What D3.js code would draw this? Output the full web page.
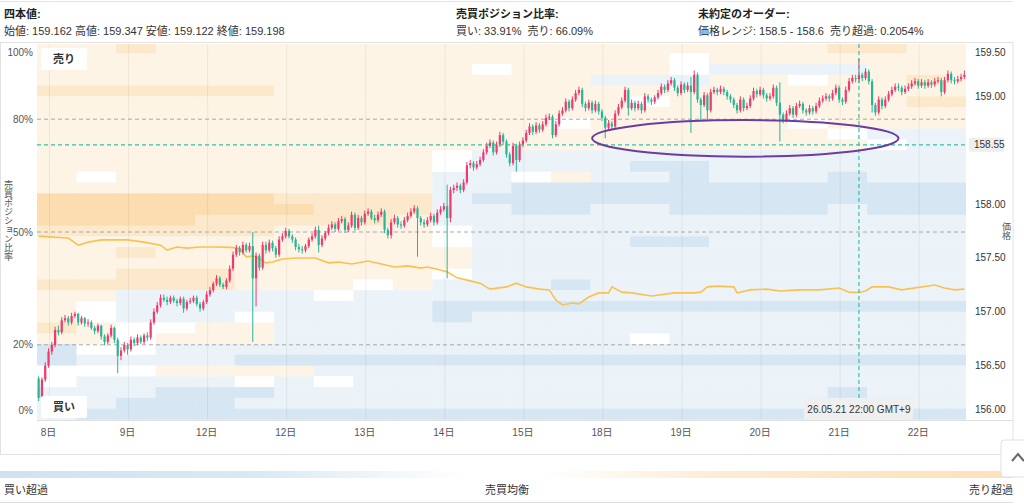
<!DOCTYPE html>
<html lang="ja">
<head>
<meta charset="utf-8">
<title>ポジション比率チャート</title>
<script src="https://cdn.jsdelivr.net/npm/d3@7"></script>
<style>
  body { margin: 0; background: #fff; }
  svg text { font-family: "Liberation Sans", "Noto Sans CJK JP", sans-serif; fill: #333; }
</style>
</head>
<body>
<div id="chart"></div>
<script>
// hourly candles, price in JPY
const firstOpen = 156.38;
const closes = [
  156.20,156.37,156.50,156.63,156.69,156.83,156.81,156.92,156.94,156.90,
  156.96,156.98,156.90,156.94,156.89,156.90,156.85,156.82,156.87,156.77,
  156.72,156.78,156.85,156.74,156.59,156.64,156.69,156.65,156.74,156.71,
  156.76,156.72,156.78,156.76,156.90,157.00,157.06,157.13,157.11,157.09,
  157.13,157.10,157.08,157.12,157.03,157.09,157.10,157.13,157.07,157.03,
  157.09,157.16,157.20,157.26,157.31,157.25,157.23,157.29,157.40,157.53,
  157.59,157.55,157.62,157.57,157.61,157.31,157.52,157.41,157.62,157.57,
  157.64,157.59,157.53,157.67,157.70,157.75,157.70,157.67,157.60,157.58,
  157.57,157.61,157.67,157.70,157.76,157.62,157.68,157.73,157.78,157.81,
  157.77,157.84,157.86,157.76,157.80,157.90,157.78,157.87,157.83,157.91,
  157.93,157.87,157.85,157.90,157.93,157.76,157.71,157.83,157.87,157.81,
  157.80,157.85,157.89,157.93,157.96,157.87,157.83,157.81,157.85,157.89,
  157.83,157.92,157.95,157.98,157.87,158.13,158.15,158.17,158.13,158.20,
  158.36,158.38,158.34,158.37,158.41,158.48,158.54,158.57,158.48,158.55,
  158.64,158.58,158.46,158.38,158.54,158.41,158.55,158.59,158.66,158.72,
  158.67,158.73,158.69,158.74,158.80,158.81,158.64,158.74,158.84,158.87,
  158.95,158.89,158.97,159.03,159.06,158.93,158.89,158.94,158.87,158.93,
  158.86,158.80,158.71,158.75,158.72,158.84,158.90,158.96,159.06,158.89,
  158.94,158.89,158.93,158.87,159.00,158.97,158.95,158.99,159.03,159.09,
  159.06,159.12,159.15,159.08,159.03,159.11,159.06,159.10,159.04,159.20,
  158.97,158.92,159.01,158.87,159.04,159.06,159.04,159.07,159.04,159.00,
  158.97,158.92,158.87,158.97,158.89,158.91,158.98,159.05,159.02,159.06,
  159.01,158.98,159.00,159.08,158.94,158.83,158.78,158.84,158.89,158.83,
  158.91,158.93,158.87,158.85,158.89,158.86,158.91,158.96,158.98,159.00,
  158.98,159.03,159.08,158.97,158.95,159.06,159.14,159.17,159.16,159.20,
  159.17,159.23,159.14,158.92,158.85,158.97,158.91,158.97,159.02,159.06,
  159.09,159.08,159.04,159.07,159.09,159.12,159.14,159.10,159.13,159.10,
  159.13,159.11,159.14,159.15,159.04,159.15,159.21,159.15,159.14,159.16,
  159.18,159.20
];
const highs = [
  156.40,156.39,156.53,156.66,156.72,156.86,156.87,156.95,156.97,156.96,
  156.99,157.00,156.99,156.96,156.95,156.93,156.92,156.87,156.89,156.88,
  156.79,156.80,156.88,156.86,156.76,156.67,156.72,156.71,156.77,156.76,
  156.79,156.78,156.80,156.81,156.93,157.03,157.09,157.16,157.16,157.14,
  157.15,157.15,157.12,157.14,157.14,157.11,157.13,157.15,157.15,157.09,
  157.11,157.19,157.23,157.28,157.34,157.33,157.27,157.31,157.43,157.56,
  157.62,157.61,157.65,157.64,157.64,157.74,157.55,157.54,157.65,157.65,
  157.67,157.66,157.61,157.70,157.73,157.78,157.77,157.72,157.69,157.63,
  157.61,157.63,157.69,157.73,157.79,157.80,157.71,157.75,157.81,157.84,
  157.83,157.87,157.89,157.88,157.83,157.93,157.92,157.90,157.89,157.94,
  157.96,157.95,157.90,157.93,157.96,157.95,157.78,157.86,157.90,157.89,
  157.84,157.88,157.92,157.96,157.99,157.98,157.89,157.86,157.88,157.92,
  157.91,157.95,157.98,158.01,158.18,158.16,158.18,158.20,158.19,158.23,
  158.39,158.41,158.40,158.40,158.44,158.51,158.57,158.60,158.59,158.58,
  158.67,158.66,158.60,158.48,158.57,158.56,158.58,158.62,158.69,158.75,
  158.74,158.76,158.75,158.77,158.83,158.84,158.83,158.77,158.87,158.90,
  158.98,158.97,159.00,159.06,159.09,159.08,158.95,158.97,158.96,158.96,
  158.95,158.88,158.82,158.78,158.77,158.87,158.93,158.99,159.09,159.08,
  158.97,158.96,158.96,158.95,159.03,159.02,158.99,159.01,159.06,159.12,
  159.11,159.15,159.18,159.17,159.10,159.14,159.13,159.13,159.18,159.24,
  159.22,158.99,159.04,159.03,159.07,159.09,159.08,159.10,159.09,159.06,
  159.02,158.99,158.94,159.00,158.99,158.94,159.01,159.08,159.07,159.09,
  159.08,159.03,159.03,159.11,159.10,159.13,158.85,158.87,158.92,158.91,
  158.94,158.96,158.95,158.89,158.92,158.91,158.94,158.99,159.01,159.03,
  159.02,159.06,159.11,159.10,158.99,159.09,159.17,159.20,159.20,159.35,
  159.22,159.26,159.25,159.16,158.94,159.00,158.99,159.00,159.05,159.09,
  159.12,159.12,159.10,159.10,159.12,159.15,159.17,159.16,159.16,159.15,
  159.16,159.15,159.17,159.18,159.17,159.18,159.24,159.23,159.18,159.19,
  159.21,159.24
];
const lows = [
  156.17,156.18,156.35,156.48,156.60,156.67,156.78,156.79,156.90,156.87,
  156.88,156.94,156.87,156.88,156.86,156.86,156.83,156.79,156.80,156.74,
  156.69,156.70,156.76,156.71,156.43,156.55,156.62,156.60,156.63,156.68,
  156.69,156.70,156.70,156.73,156.74,156.88,156.98,157.04,157.09,157.06,
  157.07,157.08,157.05,157.06,156.99,157.01,157.07,157.08,157.05,157.00,
  157.01,157.07,157.14,157.18,157.24,157.23,157.21,157.21,157.27,157.38,
  157.51,157.52,157.53,157.55,157.55,156.72,157.05,157.38,157.39,157.54,
  157.55,157.56,157.50,157.51,157.65,157.68,157.68,157.64,157.57,157.55,
  157.54,157.55,157.59,157.65,157.68,157.55,157.60,157.66,157.71,157.76,
  157.74,157.75,157.82,157.73,157.74,157.78,157.75,157.76,157.80,157.81,
  157.89,157.85,157.82,157.83,157.88,157.73,157.68,157.68,157.81,157.78,
  157.77,157.78,157.83,157.87,157.91,157.51,157.80,157.78,157.79,157.83,
  157.80,157.81,157.90,157.93,157.31,157.83,158.10,158.12,158.10,158.11,
  158.18,158.33,158.31,158.32,158.35,158.39,158.46,158.52,158.45,158.46,
  158.53,158.55,158.43,158.35,158.36,158.30,158.39,158.53,158.57,158.64,
  158.64,158.65,158.66,158.67,158.72,158.78,158.61,158.62,158.72,158.82,
  158.85,158.86,158.87,158.95,159.01,158.90,158.86,158.87,158.84,158.85,
  158.83,158.77,158.61,158.69,158.69,158.70,158.82,158.88,158.94,158.82,
  158.87,158.86,158.87,158.84,158.85,158.94,158.92,158.93,158.97,159.01,
  159.03,159.04,159.10,159.05,159.00,159.01,159.03,159.04,158.66,159.02,
  158.94,158.78,158.90,158.78,158.85,159.02,159.01,159.02,159.01,158.97,
  158.94,158.89,158.84,158.85,158.86,158.87,158.89,158.96,158.99,159.00,
  158.98,158.95,158.96,158.98,158.91,158.58,158.75,158.76,158.82,158.80,
  158.81,158.89,158.84,158.82,158.83,158.83,158.84,158.89,158.94,158.96,
  158.95,158.96,159.01,158.94,158.92,158.93,159.04,159.12,159.13,159.12,
  159.14,159.15,159.11,158.85,158.82,158.83,158.88,158.89,158.95,159.00,
  159.04,159.05,159.01,159.02,159.05,159.07,159.10,159.07,159.08,159.07,
  159.08,159.08,159.09,159.12,159.00,159.02,159.13,159.12,159.11,159.12,
  159.14,159.16
];

// x axis: candle index where each day label sits
const dayIndex = [3, 27, 51, 75, 99, 123, 147, 171, 195, 219, 243, 267];
const dayLabels = ["8日", "9日", "12日", "12日", "13日", "14日", "15日", "18日", "19日", "20日", "21日", "22日"];

const priceTicks = [156.00, 156.50, 157.00, 157.50, 158.00, 158.50, 159.00, 159.50];
const pctTicks = [0, 20, 50, 80, 100];
const pctGrid = [20, 50, 80];

// buy position ratio (%) read at these candles
const ratioIdx = [0,3,9,12,15,19,24,27,32,37,39,42,45,49,53,58,61,63,65,66,
  69,71,74,78,84,88,91,95,100,104,108,112,116,118,122,124,127,131,134,137,
  142,145,148,152,155,157,159,162,164,167,170,173,174,177,180,186,193,199,201,203,
  206,211,212,216,221,225,231,237,243,246,249,251,253,258,262,272,275,278,281];
const ratioPct = [48.9,48.7,48.4,46.5,47.3,47.9,47.9,47.9,47.3,46.5,45.2,46.0,45.7,46.0,46.0,45.9,45.7,43.4,43.6,43.4,
  41.8,42.0,42.8,43.1,43.1,41.8,42.0,41.5,42.3,41.5,40.7,41.0,40.4,40.7,39.9,39.4,37.8,37.0,36.4,34.8,
  35.4,36.4,35.4,34.8,34.6,31.9,30.6,31.1,30.9,32.7,33.8,33.8,35.4,34.0,33.8,33.0,33.8,33.8,34.0,35.4,
  35.6,35.4,33.8,34.6,34.8,34.3,34.6,34.6,35.1,34.0,33.9,34.3,35.4,35.4,34.6,35.9,35.1,34.6,34.8];

// order book heat: lower price of each 0.1 row (top to bottom), 24 half-day columns
// positive = sell surplus (orange), negative = buy surplus (blue)
const levels = [159.4,159.3,159.2,159.1,159.0,158.9,158.8,158.7,158.6,158.5,158.4,158.3,158.2,158.1,158.0,
  157.9,157.8,157.7,157.6,157.5,157.4,157.3,157.2,157.1,157.0,156.9,156.8,156.7,156.6,156.5,156.4,156.3,156.2,156.1,156.0];
const heat = [
  [1,1,2,1,1,1,1,1,1,1,1,1,1,1,1,1,1,1,1,1,2,2,1,1],
  [1,1,1,1,1,1,1,1,1,1,1,1,1,1,1,1,0,1,1,1,1,1,1,1],
  [1,1,1,1,1,1,1,1,1,1,1,0,1,1,1,1,0,-1,-1,-1,-1,1,1,1],
  [1,1,1,1,1,1,1,1,1,1,1,1,1,1,-1,-1,-1,1,1,0,1,1,2,1],
  [2,2,2,2,2,2,1,1,1,1,1,1,1,1,1,1,1,1,1,1,1,1,1,1],
  [1,1,1,1,1,1,1,1,1,1,1,1,1,1,1,0,1,1,1,1,1,1,2,2],
  [1,1,1,1,1,1,1,1,1,1,1,1,1,1,1,1,1,1,1,1,1,1,1,1],
  [1,1,1,1,1,1,1,1,1,1,1,1,1,0,1,1,1,1,1,0,1,1,1,1],
  [1,1,1,1,1,1,1,1,1,1,1,1,1,1,1,1,1,1,1,1,0,-1,-1,-1],
  [1,1,1,1,1,1,1,1,1,1,1,1,1,1,1,1,1,1,1,1,1,0,-1,-1],
  [1,1,1,1,1,1,1,1,1,1,0,-1,-1,-1,-1,-1,-1,-1,-1,-1,-1,-1,-1,-1],
  [1,1,1,1,1,1,1,1,1,1,0,-1,-1,-1,-1,-2,-2,-1,-1,-1,-1,-1,-1,-1],
  [1,0,1,1,1,1,1,1,1,1,-1,-1,0,1,-1,-1,-2,-1,-1,-1,-2,-1,-1,-1],
  [1,1,1,1,1,1,1,1,1,1,-1,-1,-2,-2,-2,-2,-2,-2,-2,-2,-2,-2,-2,-2],
  [3,3,3,3,3,3,2,2,2,2,-1,-2,-2,-2,-2,-2,-2,-2,-2,-2,-2,-2,-2,-2],
  [3,3,3,3,3,3,3,2,2,2,-1,-1,-2,-2,-1,-1,-2,-2,-2,-2,-1,-2,-2,-2],
  [3,3,3,3,2,2,2,2,2,1,-1,-1,-1,-1,-1,-1,-1,-1,-1,-1,-1,-1,-1,-1],
  [2,2,2,2,2,2,1,1,1,1,0,-1,-1,-1,-1,-1,-1,-1,-1,-1,-1,-1,-1,-1],
  [1,1,1,1,1,1,1,1,1,1,0,-1,-1,-1,-1,-2,-2,-1,-1,-1,-1,-1,-1,-1],
  [1,1,2,1,1,1,1,1,1,1,1,-1,-1,-1,-1,-1,-1,-1,-1,-1,-1,-1,-1,-1],
  [1,1,1,1,1,1,1,1,1,1,1,-1,-1,-1,-1,-1,-1,-1,-1,-1,-1,-1,-1,-1],
  [1,1,2,2,2,1,1,1,1,1,0,-1,-1,-1,-1,-1,-1,-1,-1,-1,-1,-1,-1,-1],
  [2,2,2,2,2,1,1,1,0,1,-1,-1,-1,-2,-1,-1,-1,-1,-1,-1,-1,-1,-1,-1],
  [1,1,-1,-1,-1,-1,-1,0,-1,-1,-1,-1,-1,-1,-1,-1,-1,-1,-1,-1,-1,-1,-1,-1],
  [1,0,-1,-1,-1,-1,-1,-1,-1,-1,-2,-2,-2,-2,-2,-2,-2,-2,-2,-2,-2,-2,-2,-2],
  [1,0,-1,-1,-1,0,-1,-1,-1,-1,-2,-1,-1,-1,-1,-1,-1,-1,-1,-1,-1,-1,-1,-1],
  [2,1,0,0,1,1,-1,-1,-1,-1,-1,-1,-1,-1,-1,-1,-1,-1,-1,-1,-1,-1,-1,-1],
  [1,1,0,1,1,1,-1,-1,-1,-1,-1,-1,-1,-1,-1,0,-1,-1,-1,-1,-1,-1,-1,-1],
  [-2,0,0,-1,-1,-1,-1,-1,-1,-1,-1,-1,-1,-1,-1,-1,-1,-1,-1,-1,-1,-1,-1,-1],
  [-2,-1,-1,-1,-1,-2,-2,-2,-2,-2,-2,-2,-2,-2,-2,-2,-2,-2,-2,-2,-2,-2,-2,-2],
  [0,0,0,1,1,1,1,-1,-1,-1,-1,-1,-1,-1,-1,-1,-1,-1,-1,-1,-1,-1,-1,-1],
  [0,-1,-1,-1,-1,0,-1,0,-1,-1,-1,-1,-1,-1,-1,-1,-1,-1,-1,-1,-1,-1,-1,-1],
  [-1,-1,-1,-2,-2,-2,-1,-1,-1,-1,-1,-1,-1,-1,-1,-1,-1,-1,-1,-1,-2,-1,-1,-1],
  [-1,-1,-2,-2,-2,-1,-1,-1,-1,-1,-1,-1,-1,-1,-1,-1,-1,-1,-1,-1,-1,-1,-1,-1],
  [-1,-2,-2,-2,-2,-2,-2,-2,-2,-2,-2,-2,-2,-2,-2,-2,-2,-2,-2,-2,-2,-2,-2,-2]
];
const heatColSpan = 12; // candles per heat column

// crosshair + annotation
const crossIndex = 249;
const crossPrice = 158.55;
const crossTime = "26.05.21 22:00 GMT+9";
const focusIdx = [168, 261];
const focusPrice = [158.44, 158.78];

const plot = { left: 37, right: 966, top: 44, bottom: 420 };
const upColor = "#ef3a6c", downColor = "#27b595";

var svg, x, yP, yR, heatColor;

document.addEventListener('DOMContentLoaded', function () {
    svg = d3.select("#chart").append("svg")
        .attr("width", 1024)
        .attr("height", 504);

    x = d3.scaleLinear().domain([-0.5, closes.length - 0.5]).range([plot.left, plot.right]);
    yP = d3.scaleLinear().domain([156.0, 159.5]).range([419.4, 42.5]);
    yR = d3.scaleLinear().domain([0, 100]).range([plot.bottom, plot.top]);
    heatColor = d3.scaleLinear().domain([-3, 0, 3]).range(["#c2daeb", "#ffffff", "#fbddb0"]);

    svg.append("defs").append("clipPath").attr("id", "plotClip")
        .append("rect")
        .attr("x", plot.left).attr("y", plot.top)
        .attr("width", plot.right - plot.left).attr("height", plot.bottom - plot.top);

    drawFrame();
    drawHeader();
    drawHeatmap();
    drawGrid();
    drawRatio();
    drawCandles();
    drawMarkers();
    drawAxes();
    drawLegend();
});

function drawFrame() {
    svg.append("line").attr("x1", 0).attr("x2", 1013).attr("y1", 1.5).attr("y2", 1.5)
        .attr("stroke", "#e4e4e4");
    svg.append("rect")
        .attr("x", 0.5).attr("y", 42.5).attr("width", 1012.5).attr("height", 412)
        .attr("fill", "none").attr("stroke", "#e2e2e2");
}

function drawHeader() {
    const g = svg.append("g").style("font-size", "11px");
    const blocks = [
        { x: 4, title: "四本値:", text: "始値: 159.162 高値: 159.347 安値: 159.122 終値: 159.198" },
        { x: 456, title: "売買ポジション比率:", text: "買い: 33.91%\u00a0\u00a0売り: 66.09%" },
        { x: 698, title: "未約定のオーダー:", text: "価格レンジ: 158.5 - 158.6\u00a0\u00a0売り超過: 0.2054%" }
    ];
    blocks.forEach(function (b) {
        g.append("text").attr("x", b.x).attr("y", 18)
            .style("font-weight", "bold").style("fill", "#222")
            .text(b.title);
        g.append("text").attr("x", b.x).attr("y", 34.5).text(b.text);
    });
}

function drawHeatmap() {
    const cells = [];
    heat.forEach(function (row, r) {
        row.forEach(function (v, c) {
            cells.push({ r: r, c: c, v: v });
        });
    });
    svg.append("g").attr("clip-path", "url(#plotClip)")
        .selectAll("rect")
        .data(cells)
        .enter()
        .append("rect")
        .attr("x", d => x(d.c * heatColSpan - 0.5))
        .attr("y", d => yP(levels[d.r] + 0.1))
        .attr("width", d => Math.min(x((d.c + 1) * heatColSpan - 0.5), plot.right) - x(d.c * heatColSpan - 0.5) + 0.4)
        .attr("height", d => yP(levels[d.r]) - yP(levels[d.r] + 0.1) + 0.4)
        .attr("fill", d => heatColor(d.v));
}

function drawGrid() {
    const g = svg.append("g");
    g.selectAll(".vgrid")
        .data(dayIndex)
        .enter()
        .append("line")
        .attr("class", "vgrid")
        .attr("x1", d => x(d) + 1).attr("x2", d => x(d) + 1)
        .attr("y1", plot.top).attr("y2", plot.bottom)
        .attr("stroke", "#000").attr("stroke-opacity", 0.06);

    g.selectAll(".hgrid")
        .data(pctGrid)
        .enter()
        .append("line")
        .attr("class", "hgrid")
        .attr("x1", plot.left).attr("x2", plot.right)
        .attr("y1", d => yR(d)).attr("y2", d => yR(d))
        .attr("stroke", "#a8a8a8")
        .attr("stroke-dasharray", "4,3");
}

function drawRatio() {
    const pts = ratioIdx.map((d, i) => [d, ratioPct[i]]);
    svg.append("path")
        .datum(pts)
        .attr("fill", "none")
        .attr("stroke", "#fbc14f")
        .attr("stroke-width", 1.6)
        .attr("d", d3.line().x(d => x(d[0])).y(d => yR(d[1])));
}

function drawCandles() {
    const data = closes.map(function (c, i) {
        const o = i === 0 ? firstOpen : closes[i - 1];
        return { i: i, o: o, c: c, h: highs[i], l: lows[i] };
    });
    const g = svg.append("g").attr("clip-path", "url(#plotClip)");

    g.selectAll(".wick")
        .data(data)
        .enter()
        .append("line")
        .attr("class", "wick")
        .attr("x1", d => x(d.i)).attr("x2", d => x(d.i))
        .attr("y1", d => yP(d.h)).attr("y2", d => yP(d.l))
        .attr("stroke", d => d.c >= d.o ? upColor : downColor)
        .attr("stroke-width", 1);

    g.selectAll(".body")
        .data(data)
        .enter()
        .append("rect")
        .attr("class", "body")
        .attr("x", d => x(d.i) - 1.1)
        .attr("width", 2.2)
        .attr("y", d => yP(Math.max(d.o, d.c)))
        .attr("height", d => Math.max(1, Math.abs(yP(d.o) - yP(d.c))))
        .attr("fill", d => d.c >= d.o ? upColor : downColor);
}

function drawMarkers() {
    const cx = x(crossIndex), cy = yP(crossPrice);

    svg.append("line")
        .attr("x1", plot.left).attr("x2", plot.right)
        .attr("y1", cy).attr("y2", cy)
        .attr("stroke", "#2ec3a6").attr("stroke-width", 1.2)
        .attr("stroke-dasharray", "4,3");
    svg.append("line")
        .attr("x1", cx).attr("x2", cx)
        .attr("y1", plot.top).attr("y2", 399)
        .attr("stroke", "#2ec3a6").attr("stroke-width", 1.2)
        .attr("stroke-dasharray", "4,3");

    // purple annotation ellipse
    svg.append("ellipse")
        .attr("cx", (x(focusIdx[0]) + x(focusIdx[1])) / 2)
        .attr("cy", (yP(focusPrice[0]) + yP(focusPrice[1])) / 2)
        .attr("rx", (x(focusIdx[1]) - x(focusIdx[0])) / 2)
        .attr("ry", (yP(focusPrice[0]) - yP(focusPrice[1])) / 2)
        .attr("fill", "none")
        .attr("stroke", "#6b3d9e")
        .attr("stroke-width", 2);

    // time label at the crosshair
    svg.append("rect")
        .attr("x", cx - 55).attr("y", 398.5).attr("width", 109).attr("height", 21.5)
        .attr("rx", 3).attr("fill", "#efefef");
    svg.append("text")
        .attr("x", cx).attr("y", 413)
        .attr("text-anchor", "middle")
        .style("font-size", "10px")
        .text(crossTime);

    // price label at the crosshair
    svg.append("rect")
        .attr("x", 969).attr("y", cy - 7).attr("width", 35).attr("height", 14)
        .attr("rx", 2).attr("fill", "#eeeeee");
    svg.append("text")
        .attr("x", 974).attr("y", cy + 3.6)
        .style("font-size", "10px")
        .text(crossPrice.toFixed(2));

    // side tags
    [{ t: "売り", y: 48 }, { t: "買い", y: 396 }].forEach(function (b) {
        svg.append("rect")
            .attr("x", 41).attr("y", b.y).attr("width", 46).attr("height", 22)
            .attr("rx", 2).attr("fill", "#fff");
        svg.append("text")
            .attr("x", 64).attr("y", b.y + 15)
            .attr("text-anchor", "middle")
            .style("font-size", "11px").style("font-weight", "bold")
            .text(b.t);
    });
}

function drawAxes() {
    const g = svg.append("g").style("font-size", "10px");

    svg.append("line")
        .attr("x1", plot.left).attr("x2", 1013)
        .attr("y1", plot.bottom + 0.5).attr("y2", plot.bottom + 0.5)
        .attr("stroke", "#e0e0e0");

    // left: position ratio
    g.selectAll(".pct")
        .data(pctTicks)
        .enter()
        .append("text")
        .attr("class", "pct")
        .attr("x", 33)
        .attr("y", d => Math.min(Math.max(yR(d), 52), 410) + 3.5)
        .attr("text-anchor", "end")
        .style("fill", "#555")
        .text(d => d + "%");

    // right: price (a tick under the crosshair label is hidden)
    const shown = priceTicks.filter(d => Math.abs(yP(d) - yP(crossPrice)) > 14);
    g.selectAll(".price")
        .data(shown)
        .enter()
        .append("text")
        .attr("class", "price")
        .attr("x", 975)
        .attr("y", d => Math.min(Math.max(yP(d), 52), 409) + 3.5)
        .text(d => d.toFixed(2));

    // bottom: days
    g.selectAll(".day")
        .data(dayIndex)
        .enter()
        .append("text")
        .attr("class", "day")
        .attr("x", d => x(d))
        .attr("y", 435.5)
        .attr("text-anchor", "middle")
        .style("fill", "#555")
        .text((d, i) => dayLabels[i]);

    g.append("text")
        .attr("x", 8).attr("y", 180)
        .style("writing-mode", "vertical-rl")
        .style("font-size", "9px").style("fill", "#555")
        .text("売買ポジション比率");
    g.append("text")
        .attr("x", 1006).attr("y", 222)
        .style("writing-mode", "vertical-rl")
        .style("font-size", "9px").style("fill", "#555")
        .text("価格");
}

function drawLegend() {
    const defs = svg.select("defs");
    const buy = defs.append("linearGradient").attr("id", "buyGrad");
    buy.append("stop").attr("offset", "0").attr("stop-color", "#cfe3ef");
    buy.append("stop").attr("offset", "0.55").attr("stop-color", "#d9e9f3");
    buy.append("stop").attr("offset", "1").attr("stop-color", "#ffffff");
    const sell = defs.append("linearGradient").attr("id", "sellGrad");
    sell.append("stop").attr("offset", "0").attr("stop-color", "#ffffff");
    sell.append("stop").attr("offset", "0.4").attr("stop-color", "#fdebd2");
    sell.append("stop").attr("offset", "1").attr("stop-color", "#fde1b8");

    svg.append("rect").attr("x", 0).attr("y", 471).attr("width", 465).attr("height", 7)
        .attr("fill", "url(#buyGrad)");
    svg.append("rect").attr("x", 540).attr("y", 471).attr("width", 473).attr("height", 7)
        .attr("fill", "url(#sellGrad)");

    const g = svg.append("g").style("font-size", "11px");
    g.append("text").attr("x", 4).attr("y", 494).text("買い超過");
    g.append("text").attr("x", 485).attr("y", 494).text("売買均衡");
    g.append("text").attr("x", 1013).attr("y", 494).attr("text-anchor", "end").text("売り超過");

    svg.append("line").attr("x1", 0).attr("x2", 1013).attr("y1", 502.5).attr("y2", 502.5)
        .attr("stroke", "#dddddd");

    // scroll-up button at the edge
    svg.append("rect")
        .attr("x", 1001).attr("y", 440).attr("width", 40).attr("height", 37)
        .attr("rx", 3).attr("fill", "#fff").attr("stroke", "#e0e0e0");
    svg.append("path")
        .attr("d", "M1012,461 L1018,454 L1024,461")
        .attr("fill", "none").attr("stroke", "#666").attr("stroke-width", 2);
}
</script>
</body>
</html>
